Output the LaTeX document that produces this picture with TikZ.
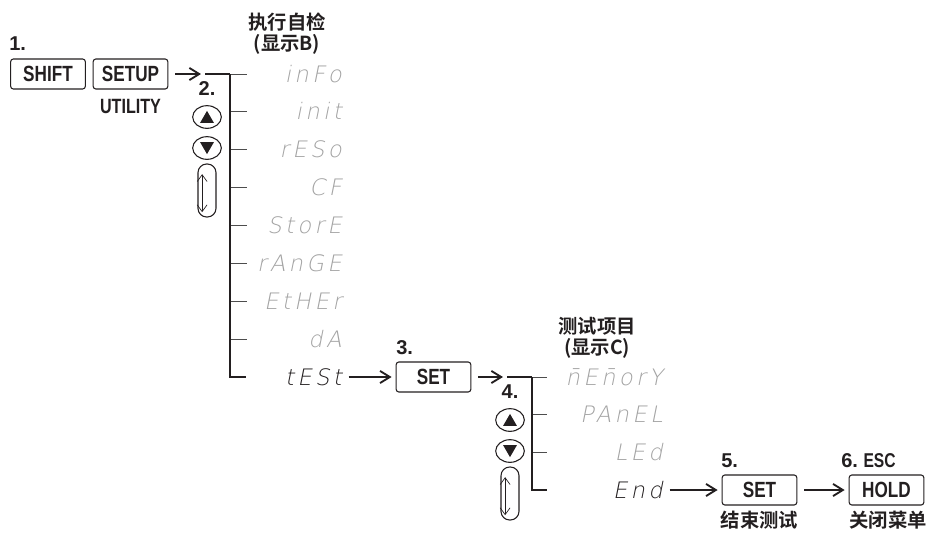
\documentclass[tikz,border=0pt]{standalone}
\usepackage{fontspec}
\setmainfont{Liberation Sans}
\newfontfamily\cjk{Noto Sans CJK SC}[UprightFont={* Bold}]
\newfontfamily\keyfont{Liberation Sans}[UprightFont={* Bold}, FakeStretch=0.78]
\newfontfamily\segfont{DejaVu Sans ExtraLight}[FakeSlant=0.2, LetterSpace=15]
\usetikzlibrary{arrows.meta,positioning,shapes.geometric,calc}
\definecolor{ink}{HTML}{231F20}
\definecolor{segOff}{HTML}{A3A3A3}
\definecolor{tickLine}{HTML}{4D4D4D}
\tikzset{
  every node/.append style = {text=ink},
  % --- keys ---------------------------------------------------------------
  key/.style     = {draw=ink, line width=0.8pt, rounded corners=2pt,
                    minimum width=56pt, minimum height=22.5pt, inner sep=0pt,
                    font=\keyfont\fontsize{16.5}{16.5}\selectfont},
  keynote/.style = {font=\keyfont\fontsize{15.5}{15.5}\selectfont},
  navbtn/.style  = {ellipse, draw=ink, line width=0.8pt, minimum width=21.5pt,
                    minimum height=17pt, inner sep=0pt},
  navtri/.style  = {regular polygon, regular polygon sides=3, fill=ink,
                    minimum size=12pt, inner sep=0pt},
  slot/.style    = {draw=ink, line width=0.8pt, rounded corners=6.5pt,
                    minimum width=13.5pt, minimum height=39.75pt, inner sep=0pt},
  scroll/.style  = {draw=ink, line width=0.5pt,
                    {Straight Barb[length=1.8mm,width=2.6mm]}-{Straight Barb[length=1.8mm,width=2.6mm]}},
  % --- labels -------------------------------------------------------------
  steplbl/.style = {font=\bfseries\fontsize{15}{15}\selectfont, inner sep=0pt},
  title/.style   = {font=\cjk\fontsize{14.5}{16}\selectfont, inner sep=0pt},
  seg/.style     = {font=\segfont\fontsize{17}{17}\selectfont, text=segOff,
                    text height=12pt, text depth=0pt, inner sep=0pt},
  segon/.style   = {text=ink},
  % --- lines --------------------------------------------------------------
  flow/.style    = {draw=ink, line width=1.4pt, shorten <=5pt, shorten >=3pt,
                    -{Straight Barb[length=2.6mm,width=3.2mm]}},
  feed/.style    = {draw=ink, line width=1.4pt},
  bracket/.style = {draw=ink, line width=2.2pt},
  tick/.style    = {draw=tickLine, line width=0.7pt},
}
\newcommand{\navkeys}[4]{% prefix, step label, x, y of the bracket top
  \node[steplbl] (#1lbl) at (#3,#4+15) {#2};
  \node[navbtn] (#1up) at (#3,#4+43) {};
  \node[navtri, yshift=-1.4pt] (#1uptri) at (#1up) {};
  \node[navbtn] (#1dn) at (#3,#4+74) {};
  \node[navtri, shape border rotate=180, yshift=1.4pt] (#1dntri) at (#1dn) {};
  \node[slot] (#1slot) at (#3,#4+116.5) {};
  \draw[scroll] ([xshift=3.5pt,yshift=-8pt]#1slot.north west)
             -- ([xshift=3.5pt,yshift=4pt]#1slot.south west);
}

\begin{document}
\begin{tikzpicture}[x=0.75pt, y=-0.75pt]
\useasboundingbox (0,0) rectangle (930,532);

% ============================ step 1: SHIFT, SETUP =========================
\node[steplbl, anchor=west] (s1) at (9,44) {1.};
\node[key] (shift) at (48,74) {SHIFT};
\node[key] (setup) at (130.5,74) {SETUP};
\node[keynote] (utility) at (130.5,106) {UTILITY};

\node[title] (titleB) at (287,22) {执行自检};
\node[title] (dispB)  at (287,44) {(显示B)};

% ======================= self test menu (display B) ========================
\coordinate (in1)   at (205,74);
\coordinate (b1top) at (230,74);
\coordinate (b1bot) at (230,377);

\draw[flow] (setup.east) -- (in1);
\draw[feed] (in1) -- (b1top);
\foreach \i in {0,...,7}{ \draw[tick] (230,{74+37.875*\i}) -- ++(17,0); }
\draw[bracket] (b1top) -- (b1bot) -- ++(16,0);

\foreach \nm/\txt [count=\i from 0] in {info/inFo, init/init, reso/rESo,
    cf/CF, store/StorE, range/rAnGE, ether/EtHEr, da/dA}
  \node[seg, anchor=east] (\nm) at (342,{74+37.875*\i}) {\txt};
\node[seg, segon, anchor=east] (test) at (342,377) {tESt};

\navkeys{k2}{2.}{207}{74}

% ================================ step 3: SET ==============================
\node[steplbl, anchor=west] (s3) at (396,348) {3.};
\node[key] (set3) at (433.5,377) {SET};
\draw[flow] (test.east) -- (set3.west);

% ======================= test items menu (display C) =======================
\node[title] (titleC) at (597,326) {测试项目};
\node[title] (dispC)  at (597,348) {(显示C)};

\coordinate (in2)   at (507,377);
\coordinate (b2top) at (532,377);
\coordinate (b2bot) at (532,490);

\draw[flow] (set3.east) -- (in2);
\draw[feed] (in2) -- (b2top);
\foreach \i in {0,...,2}{ \draw[tick] (532,{377+37.67*\i}) -- ++(15,0); }
\draw[bracket] (b2top) -- (b2bot) -- ++(15,0);

\foreach \nm/\txt [count=\i from 0] in {mem/\=nE\=norY, panel/PAnEL, led/LEd}
  \node[seg, anchor=east] (\nm) at (663,{377+37.67*\i}) {\txt};
\node[seg, segon, anchor=east] (endrow) at (663,490) {End};

\navkeys{k4}{4.}{510}{377}

% ============================ steps 5 and 6 ================================
\node[steplbl, anchor=west] (s5) at (721,461) {5.};
\node[key] (set5) at (759.5,490) {SET};
\node[title] (quit) at (759.5,520) {结束测试};

\node[steplbl, anchor=west] (s6) at (841,461) {6.\ {\keyfont ESC}};
\node[key] (hold) at (886.5,490) {HOLD};
\node[title] (close) at (888,520) {关闭菜单};

\draw[flow] (endrow.east) -- (set5.west);
\draw[flow] (set5.east) -- (hold.west);

\end{tikzpicture}
\end{document}
